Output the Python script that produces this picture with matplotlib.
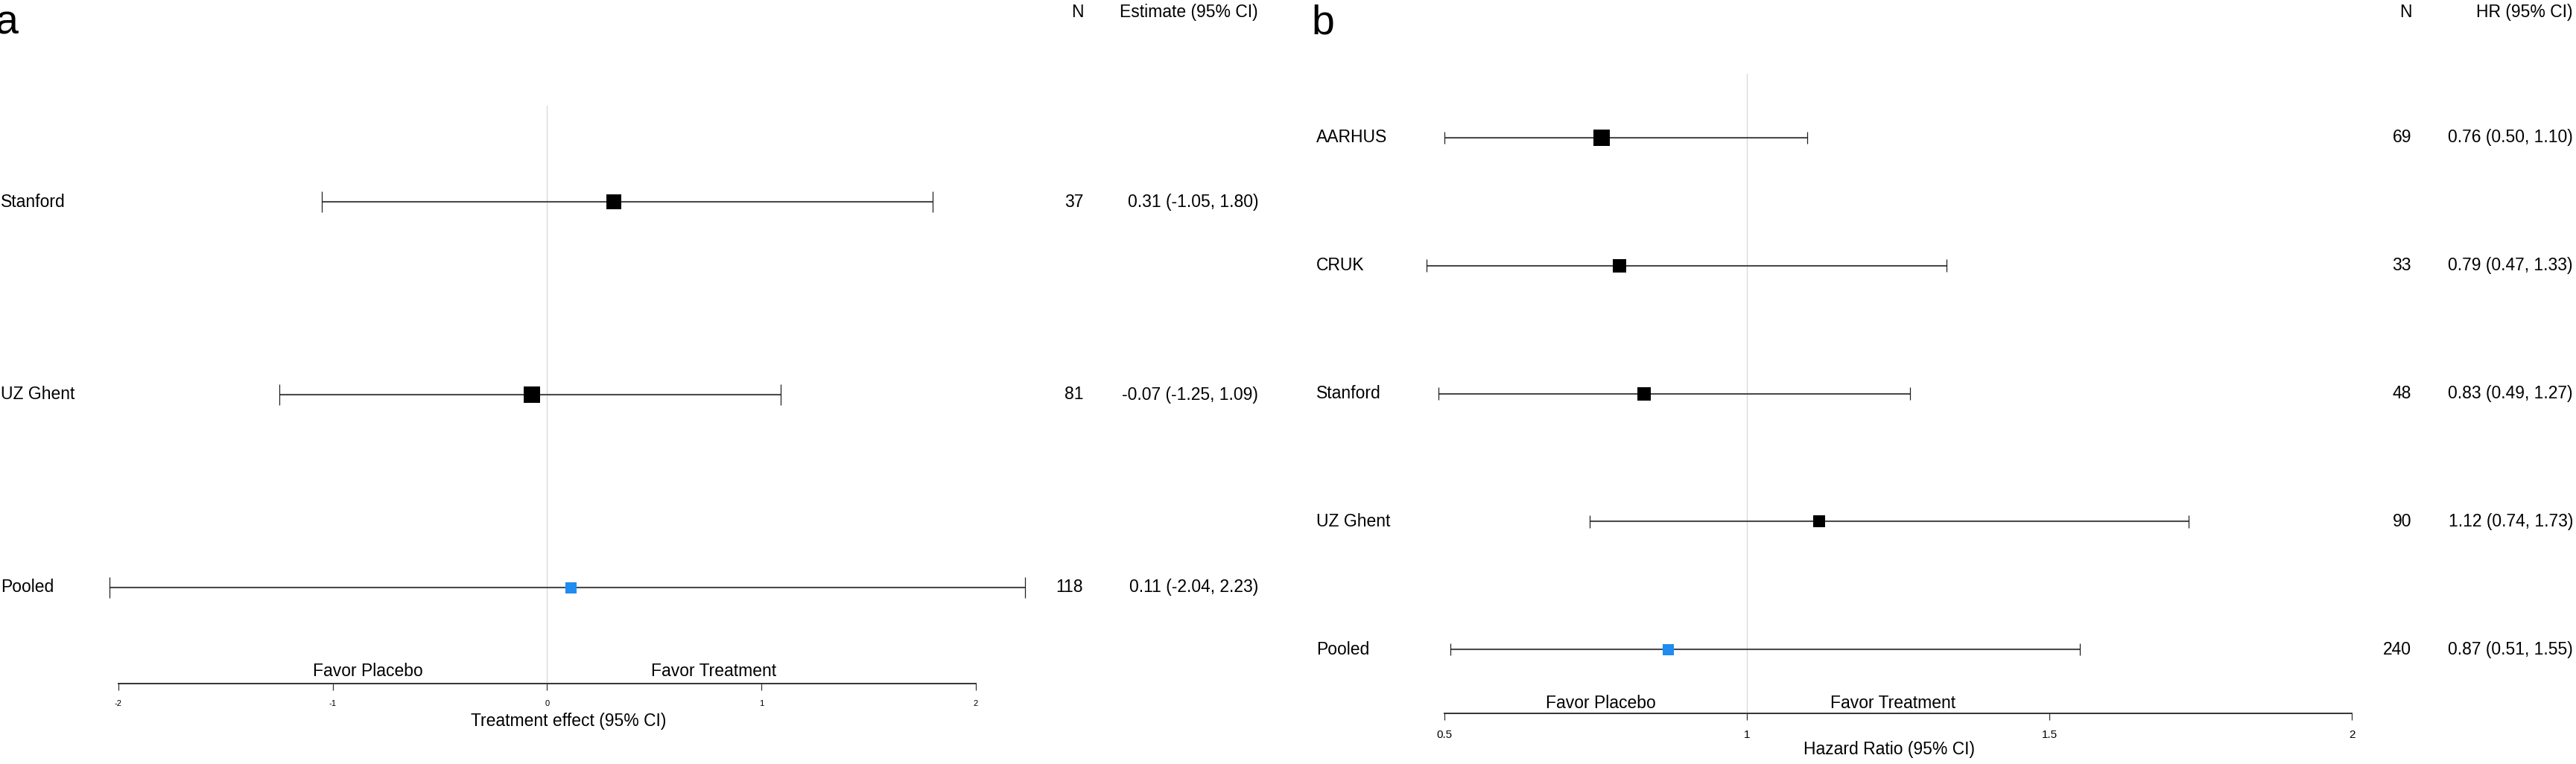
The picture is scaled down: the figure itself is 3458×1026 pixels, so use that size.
import matplotlib
matplotlib.use("Agg")
import matplotlib.pyplot as plt
import matplotlib.transforms as mtransforms

plt.rcParams["font.family"] = ["Liberation Sans", "DejaVu Sans"]
plt.rcParams["axes.unicode_minus"] = False

# Panel a - treatment effect
studies_a = ["Stanford", "UZ Ghent", "Pooled"]
n_a = [37, 81, 118]
est_a = [0.31, -0.07, 0.11]
lo_a = [-1.05, -1.25, -2.04]
hi_a = [1.80, 1.09, 2.23]
ticks_a = [-2, -1, 0, 1, 2]

# Panel b - hazard ratio
studies_b = ["AARHUS", "CRUK", "Stanford", "UZ Ghent", "Pooled"]
n_b = [69, 33, 48, 90, 240]
est_b = [0.76, 0.79, 0.83, 1.12, 0.87]
lo_b = [0.50, 0.47, 0.49, 0.74, 0.51]
hi_b = [1.10, 1.33, 1.27, 1.73, 1.55]
ticks_b = [0.5, 1, 1.5, 2]

# box sizes in pixels (weights in the original)
box_a = [20, 22, 15]
box_b = [22, 17.5, 18.5, 16, 15]

W, H = 3458, 1026
BLUE = "#1E8CF0"
FS = 16.5

fig = plt.figure(figsize=(W / 100, H / 100), dpi=100)


def fy(px):
    return 1 - px / H


def panel(letter, names, n, est, lo, hi, ticks, boxes, ref,
          left, right, top, bottom, x0_px, k, cap,
          col_n, col_est, header_est, tick_fs, favor_x, favor_base,
          xlabel, xlabel_x, xlabel_base):
    ax = fig.add_axes([left / W, fy(bottom), (right - left) / W, (bottom - top) / H])
    ax.set_xlim(ref + (left - x0_px) / k, ref + (right - x0_px) / k)
    rows = list(range(1, len(names) + 1))
    ax.set_ylim(len(names) + 0.5, 0.5)

    ax.axvline(ref, color="#d4d4d4", lw=0.8, zorder=0)

    ax.hlines(rows, lo, hi, color="#4a4a4a", lw=1.5, zorder=2)
    ax.vlines(lo, [r - cap for r in rows], [r + cap for r in rows], color="#222222", lw=0.9)
    ax.vlines(hi, [r - cap for r in rows], [r + cap for r in rows], color="#222222", lw=0.9)
    for i, r in enumerate(rows):
        c = BLUE if names[i] == "Pooled" else "black"
        ax.plot(est[i], r, "s", ms=boxes[i] * 0.72, color=c, mew=0, zorder=3)

    for s in ["top", "left", "right"]:
        ax.spines[s].set_visible(False)
    ax.spines["bottom"].set_bounds(ticks[0], ticks[-1])
    ax.spines["bottom"].set_color("#333333")
    ax.spines["bottom"].set_linewidth(1.4)
    ax.set_yticks([])
    ax.set_xticks(ticks)
    ax.set_xticklabels([f"{t:g}" for t in ticks])
    ax.tick_params(axis="x", length=6.5, width=0.9, color="#333333",
                   labelsize=tick_fs, pad=9)

    # left labels and right columns
    tr = mtransforms.blended_transform_factory(fig.transFigure, ax.transData)
    for i, r in enumerate(rows):
        ax.text(left_label_px[letter] / W, r, names[i], transform=tr,
                ha="left", va="center", fontsize=FS)
        ax.text(col_n / W, r, str(n[i]), transform=tr,
                ha="right", va="center", fontsize=FS)
        ax.text(col_est / W, r, f"{est[i]:.2f} ({lo[i]:.2f}, {hi[i]:.2f})",
                transform=tr, ha="right", va="center", fontsize=FS)

    fig.text((col_n + 1) / W, fy(23), "N", ha="right", va="baseline", fontsize=FS)
    fig.text(col_est / W, fy(23), header_est, ha="right", va="baseline", fontsize=FS)
    fig.text((left_label_px[letter] - 7) / W, fy(46), letter, ha="left",
             va="baseline", fontsize=40)

    # favor annotations above the axis
    trf = mtransforms.blended_transform_factory(ax.transData, fig.transFigure)
    ax.text(favor_x[0], fy(favor_base), "Favor Placebo", transform=trf,
            ha="center", va="baseline", fontsize=FS)
    ax.text(favor_x[1], fy(favor_base), "Favor Treatment", transform=trf,
            ha="center", va="baseline", fontsize=FS)

    fig.text(xlabel_x / W, fy(xlabel_base), xlabel, ha="center",
             va="baseline", fontsize=FS)
    return ax


left_label_px = {"a": 1, "b": 1767}

panel("a", studies_a, n_a, est_a, lo_a, hi_a, ticks_a, box_a, 0,
      left=100, right=1400, top=142, bottom=918, x0_px=734.5, k=287.75, cap=0.054,
      col_n=1454, col_est=1689, header_est="Estimate (95% CI)", tick_fs=8,
      favor_x=(-0.836, 0.777), favor_base=908,
      xlabel="Treatment effect (95% CI)", xlabel_x=763, xlabel_base=975)

panel("b", studies_b, n_b, est_b, lo_b, hi_b, ticks_b, box_b, 1,
      left=1900, right=3200, top=99, bottom=958, x0_px=2345, k=812, cap=0.048,
      col_n=3237, col_est=3454, header_est="HR (95% CI)", tick_fs=11,
      favor_x=(0.758, 1.242), favor_base=951,
      xlabel="Hazard Ratio (95% CI)", xlabel_x=2536, xlabel_base=1013)

fig.savefig("out.png", dpi=100, facecolor="white")
